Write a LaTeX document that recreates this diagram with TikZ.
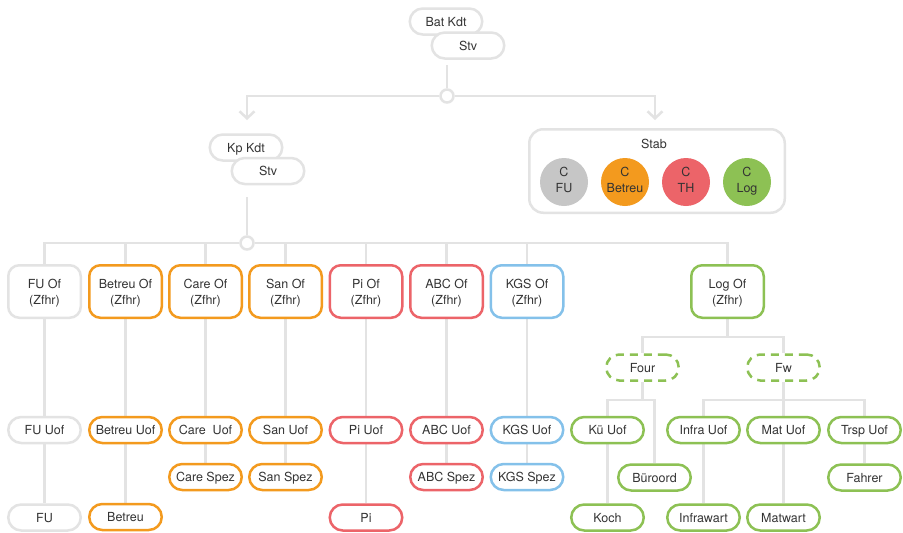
\documentclass[tikz,border=0pt]{standalone}
\usepackage{fontspec}
\setmainfont{TeX Gyre Heros}
\usetikzlibrary{arrows.meta,backgrounds}
\definecolor{linegray}{HTML}{E3E3E3}
\definecolor{txt}{HTML}{333333}
\definecolor{corange}{HTML}{F39A1E}
\definecolor{cred}{HTML}{EC6469}
\definecolor{cblue}{HTML}{84C1EA}
\definecolor{cgreen}{HTML}{8DC154}
\definecolor{cgray}{HTML}{C6C6C6}
\begin{document}
\begin{tikzpicture}[x=1pt,y=-1pt,
  every node/.style={font=\fontsize{12.5}{16.5}\selectfont, text=txt},
  box/.style={draw, line width=2.5pt, fill=white, inner sep=0pt, align=center},
  pill/.style={box, minimum width=72.5pt, minimum height=26pt, rounded corners=13pt,
    text height=11pt, text depth=2pt},
  tall/.style={box, minimum width=72.5pt, minimum height=52.5pt, rounded corners=11pt,
    text height=29.5pt, text depth=2.6pt},
  dashpill/.style={pill, dash pattern=on 8pt off 6pt},
  conn/.style={draw=linegray, line width=2.5pt},
  arr/.style={conn, -{Straight Barb[length=7pt,width=15pt]}},
  hub/.style={circle, draw=linegray, line width=2.5pt, fill=white, minimum size=13pt, inner sep=0pt},
  disc/.style={circle, minimum size=48pt, inner sep=0pt, align=center,
    font=\fontsize{12.5}{15.6}\selectfont, text depth=4.4pt},
  gr/.style={draw=linegray}, og/.style={draw=corange}, rd/.style={draw=cred},
  bl/.style={draw=cblue}, gn/.style={draw=cgreen}
]
\useasboundingbox (0,0) rectangle (903,533);

% command
\node[pill, gr] (batkdt) at (446,21.5) {Bat Kdt};
\node[pill, gr] (batstv) at (468,45.5) {Stv};
\node[hub] (hub1) at (447,96) {};
\coordinate (t1) at (447,65);
\coordinate (a1) at (247,120);
\coordinate (a2) at (655,120);

\node[pill, gr] (kpkdt) at (246,147.5) {Kp Kdt};
\node[pill, gr] (kpstv) at (268,171) {Stv};
\coordinate (t2) at (247,197);
\node[hub] (hub2) at (247,243) {};

% staff
\node[draw=linegray, line width=2.5pt, rounded corners=14pt, minimum width=255.5pt,
  minimum height=83.5pt, inner sep=0pt] (stab) at (657,171) {};
\node (stabtitle) at (654,144) {Stab};
\node[disc, fill=cgray] (cfu) at (564,182) {C\\FU};
\node[disc, fill=corange] (cbetreu) at (625,182) {C\\Betreu};
\node[disc, fill=cred] (cth) at (686,182) {C\\TH};
\node[disc, fill=cgreen] (clog) at (747,182) {C\\Log};

% officers
\node[tall, gr] (fuof) at (44.5,291.5) {FU Of\\(Zfhr)};
\node[tall, og] (betreuof) at (125.5,291.5) {Betreu Of\\(Zfhr)};
\node[tall, og] (careof) at (205.5,291.5) {Care Of\\(Zfhr)};
\node[tall, og] (sanof) at (285.5,291.5) {San Of\\(Zfhr)};
\node[tall, rd] (piof) at (366,291.5) {Pi Of\\(Zfhr)};
\node[tall, rd] (abcof) at (446.5,291.5) {ABC Of\\(Zfhr)};
\node[tall, bl] (kgsof) at (527,291.5) {KGS Of\\(Zfhr)};
\node[tall, gn] (logof) at (727.5,291.5) {Log Of\\(Zfhr)};

% NCOs
\node[pill, gr] (fuuof) at (44.5,430) {FU Uof};
\node[pill, og] (betreuuof) at (125.5,430) {Betreu Uof};
\node[pill, og] (careuof) at (205.5,430) {Care\ \ Uof};
\node[pill, og] (sanuof) at (285.5,430) {San Uof};
\node[pill, rd] (piuof) at (366,430) {Pi Uof};
\node[pill, rd] (abcuof) at (446.5,430) {ABC Uof};
\node[pill, bl] (kgsuof) at (527,430) {KGS Uof};

\node[pill, og] (carespez) at (205.5,477) {Care Spez};
\node[pill, og] (sanspez) at (285.5,477) {San Spez};
\node[pill, rd] (abcspez) at (446.5,477) {ABC Spez};
\node[pill, bl] (kgsspez) at (527,477) {KGS Spez};

\node[pill, gr] (fu) at (44.5,517.5) {FU};
\node[pill, og] (betreu) at (125.5,517) {Betreu};
\node[pill, rd] (pi) at (366,517.5) {Pi};

% logistics
\coordinate (j3) at (727.5,337);
\node[dashpill, gn] (four) at (642.5,367.5) {Four};
\node[dashpill, gn] (fw) at (783.5,367.5) {Fw};
\coordinate (j4) at (642.5,400);
\coordinate (j5) at (783.5,400);
\node[pill, gn] (kuuof) at (607.5,430) {Kü Uof};
\node[pill, gn] (bueroord) at (654.5,477.5) {Büroord};
\node[pill, gn] (koch) at (607.5,517.5) {Koch};
\node[pill, gn] (infrauof) at (703.5,430) {Infra Uof};
\node[pill, gn] (matuof) at (783.5,430) {Mat Uof};
\node[pill, gn] (trspuof) at (864.5,430) {Trsp Uof};
\node[pill, gn] (infrawart) at (703.5,517.5) {Infrawart};
\node[pill, gn] (matwart) at (783.5,517.5) {Matwart};
\node[pill, gn] (fahrer) at (864.5,477.5) {Fahrer};

\begin{scope}[on background layer]
  \fill[white] (0,0) rectangle (903,533);
  \draw[conn] (t1) -- (hub1);
  \draw[arr] (hub1.west) -| (a1);
  \draw[arr] (hub1.east) -| (a2);
  \draw[conn] (t2) -- (hub2);
  \foreach \n in {fuof,betreuof,careof,sanof,piof,abcof,kgsof,logof}
    \draw[conn] (hub2) -| (\n.north);
  \foreach \a/\b in {fuof/fuuof,betreuof/betreuuof,careof/careuof,sanof/sanuof,
      piof/piuof,abcof/abcuof,kgsof/kgsuof,
      fuuof/fu,betreuuof/betreu,careuof/carespez,sanuof/sanspez,piuof/pi,
      abcuof/abcspez,kgsuof/kgsspez,
      kuuof/koch,infrauof/infrawart,matuof/matwart,trspuof/fahrer}
    \draw[conn] (\a.south) -- (\b.north);
  \draw[conn] (logof.south) -- (j3);
  \draw[conn] (j3) -| (four.north);
  \draw[conn] (j3) -| (fw.north);
  \draw[conn] (four.south) -- (j4);
  \draw[conn] (j4) -| (kuuof.north);
  \draw[conn] (j4) -| (bueroord.north);
  \draw[conn] (fw.south) -- (j5);
  \draw[conn] (j5) -| (infrauof.north);
  \draw[conn] (j5) -- (matuof.north);
  \draw[conn] (j5) -| (trspuof.north);
\end{scope}
\end{tikzpicture}
\end{document}
